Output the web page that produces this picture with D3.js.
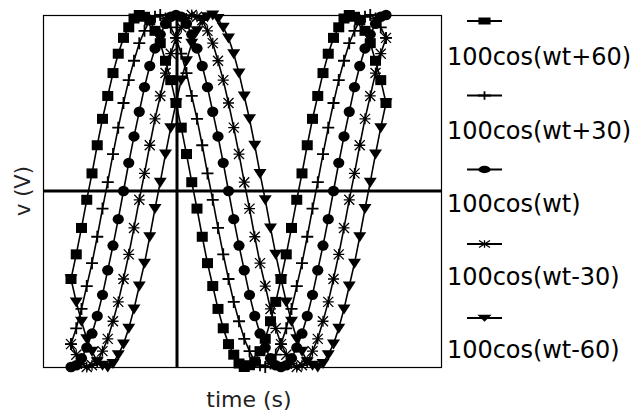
<!DOCTYPE html>
<html><head><meta charset="utf-8">
<script src="https://cdn.jsdelivr.net/npm/d3@7"></script>
<style>html,body{margin:0;padding:0;background:#fff;}svg{display:block;}</style>
</head><body>
<svg id="chart" width="635" height="415"></svg>
<script>
// wt in degrees, from -180 to 360 in 9-degree steps
const wt = d3.range(-180, 361, 9);
const seriesNames = ["100cos(wt+60)", "100cos(wt+30)", "100cos(wt)", "100cos(wt-30)", "100cos(wt-60)"];
const markerTypes = ["square", "plus", "circle", "star", "triangle"];
const vPlus60 = [-50,-36,-21,-5,10,26,41,54,67,78,87,93,98,100,99,97,91,84,74,63,50,36,21,5,-10,-26,-41,-54,-67,-78,-87,-93,-98,-100,-99,-97,-91,-84,-74,-63,-50,-36,-21,-5,10,26,41,54,67,78,87,93,98,100,99,97,91,84,74,63,50];
const vPlus30 = [-87,-78,-67,-54,-41,-26,-10,5,21,36,50,63,74,84,91,97,99,100,98,93,87,78,67,54,41,26,10,-5,-21,-36,-50,-63,-74,-84,-91,-97,-99,-100,-98,-93,-87,-78,-67,-54,-41,-26,-10,5,21,36,50,63,74,84,91,97,99,100,98,93,87];
const v0 = [-100,-99,-95,-89,-81,-71,-59,-45,-31,-16,0,16,31,45,59,71,81,89,95,99,100,99,95,89,81,71,59,45,31,16,0,-16,-31,-45,-59,-71,-81,-89,-95,-99,-100,-99,-95,-89,-81,-71,-59,-45,-31,-16,0,16,31,45,59,71,81,89,95,99,100];
const vMinus30 = [-87,-93,-98,-100,-99,-97,-91,-84,-74,-63,-50,-36,-21,-5,10,26,41,54,67,78,87,93,98,100,99,97,91,84,74,63,50,36,21,5,-10,-26,-41,-54,-67,-78,-87,-93,-98,-100,-99,-97,-91,-84,-74,-63,-50,-36,-21,-5,10,26,41,54,67,78,87];
const vMinus60 = [-50,-63,-74,-84,-91,-97,-99,-100,-98,-93,-87,-78,-67,-54,-41,-26,-10,5,21,36,50,63,74,84,91,97,99,100,98,93,87,78,67,54,41,26,10,-5,-21,-36,-50,-63,-74,-84,-91,-97,-99,-100,-98,-93,-87,-78,-67,-54,-41,-26,-10,5,21,36,50];
const seriesValues = [vPlus60, vPlus30, v0, vMinus30, vMinus60];

const svg = d3.select("#chart");
const box = {left: 43, right: 441, top: 15, bottom: 367};
const x = d3.scaleLinear().domain([-180, 360]).range([71, 386]);
const y = d3.scaleLinear().domain([-100, 100]).range([box.bottom, box.top]);

// frame
svg.append("rect").attr("x", box.left + 0.5).attr("y", box.top + 0.5)
  .attr("width", box.right - box.left).attr("height", box.bottom - box.top)
  .attr("fill", "none").attr("stroke", "#000").attr("stroke-width", 1.2);

// zero axes (thick)
svg.append("line").attr("x1", box.left).attr("x2", box.right + 1)
  .attr("y1", y(0)).attr("y2", y(0)).attr("stroke", "#000").attr("stroke-width", 3);
svg.append("line").attr("x1", x(0) + 1).attr("x2", x(0) + 1)
  .attr("y1", box.top).attr("y2", box.bottom).attr("stroke", "#000").attr("stroke-width", 3);

function drawMarker(g, type, sx, sy) {
  sx = sx || 1; sy = sy || 1;
  if (type === "square") {
    g.append("rect").attr("x", -5.5 * sx).attr("y", -5 * sy).attr("width", 11 * sx).attr("height", 10 * sy).attr("fill", "#000");
  } else if (type === "circle") {
    g.append("ellipse").attr("rx", 5.6 * sx).attr("ry", 5.2 * sy).attr("fill", "#000");
  } else if (type === "plus") {
    g.append("path").attr("d", `M${-6*sx},0H${6*sx}M0,${-6*sy}V${6*sy}`).attr("stroke", "#000").attr("stroke-width", 1.8).attr("fill", "none");
  } else if (type === "star") {
    g.append("path").attr("d", `M${-5*sx},${-5*sy}L${5*sx},${5*sy}M${-5*sx},${5*sy}L${5*sx},${-5*sy}M0,${-5.5*sy}V${5.5*sy}M${-5.5*sx},0H${5.5*sx}`)
      .attr("stroke", "#000").attr("stroke-width", 1.3).attr("fill", "none");
  } else if (type === "triangle") {
    g.append("path").attr("d", `M${-6.5*sx},${-4.5*sy}L${6.5*sx},${-4.5*sy}L0,${5.5*sy}Z`).attr("fill", "#000");
  }
}

const line = d3.line().x(d => x(d[0])).y(d => y(d[1]));
seriesValues.forEach((vals, i) => {
  const pts = wt.map((w, j) => [w, vals[j]]);
  svg.append("path").datum(pts).attr("d", line)
    .attr("fill", "none").attr("stroke", "#000").attr("stroke-width", 1.6);
  pts.forEach(p => {
    const g = svg.append("g").attr("transform", `translate(${x(p[0])},${y(p[1])})`);
    drawMarker(g, markerTypes[i]);
  });
});

// legend
const legSampleY = [21, 95.5, 169.5, 244, 318];
const legTextY = [65, 138.5, 212, 285, 358];
const legTexts = [];
seriesNames.forEach((name, i) => {
  svg.append("line").attr("x1", 467).attr("x2", 502).attr("y1", legSampleY[i]).attr("y2", legSampleY[i])
    .attr("stroke", "#000").attr("stroke-width", 2);
  const g = svg.append("g").attr("transform", `translate(484.5,${legSampleY[i]})`);
  drawMarker(g, markerTypes[i], 1.1, 0.7);
  legTexts.push(svg.append("text").attr("x", 447).attr("y", legTextY[i])
    .attr("font-family", "DejaVu Sans").attr("font-size", 24).attr("fill", "#000")
    .text(name));
});
// stretch legend labels so the longest one spans 447..631
const maxW = d3.max(legTexts, t => t.node().getComputedTextLength());
const k = 184 / maxW;
legTexts.forEach(t => {
  const w = t.node().getComputedTextLength();
  t.attr("textLength", w * k).attr("lengthAdjust", "spacing");
});

// axis titles
svg.append("text").attr("x", 249).attr("y", 407).attr("text-anchor", "middle")
  .attr("font-family", "DejaVu Sans").attr("font-size", 22).attr("fill", "#222").text("time (s)");
svg.append("text").attr("transform", "translate(30,191) rotate(-90)").attr("text-anchor", "middle")
  .attr("font-family", "DejaVu Sans").attr("font-size", 21).attr("fill", "#222").text("v (V)");
</script>
</body></html>
